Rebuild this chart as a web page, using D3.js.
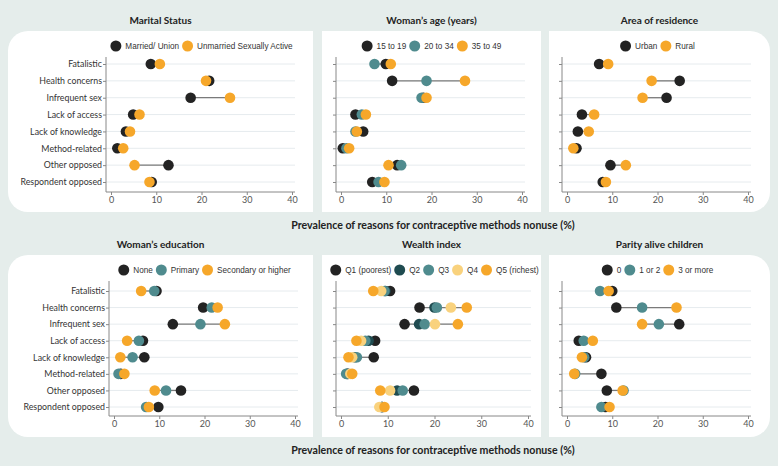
<!DOCTYPE html>
<html><head><meta charset="utf-8">
<script src="https://cdn.jsdelivr.net/npm/d3@7"></script>
<style>
html,body{margin:0;padding:0;background:#e5edeb;}
svg{display:block;}
</style></head>
<body><svg id="chart" width="778" height="466"></svg>
<script>
// ---------- DATA ----------
const reasons = ["Fatalistic","Health concerns","Infrequent sex","Lack of access","Lack of knowledge","Method-related","Other opposed","Respondent opposed"];
const xTicks = [0,10,20,30,40];
const axisTitle = "Prevalence of reasons for contraceptive methods nonuse (%)";

const maritalTitle = "Marital Status";
const maritalGroups = ["Married/ Union","Unmarried Sexually Active"];
const maritalMarried   = [8.8, 21.7, 17.6, 4.9, 3.3, 1.4, 12.7, 9.0];
const maritalUnmarried = [10.8, 21.0, 26.3, 6.3, 4.2, 2.7, 5.2, 8.5];

const ageTitle = "Woman\u2019s age (years)";
const ageGroups = ["15 to 19","20 to 34","35 to 49"];
const age15to19 = [9.9, 11.3, 18.2, 3.2, 4.9, 0.4, 12.4, 6.9];
const age20to34 = [7.4, 18.9, 17.8, 4.6, 3.2, 1.2, 13.3, 8.3];
const age35to49 = [11.0, 27.4, 18.9, 5.5, 3.5, 1.8, 10.5, 9.6];

const areaTitle = "Area of residence";
const areaGroups = ["Urban","Rural"];
const areaUrban = [7.1, 24.9, 22.0, 3.3, 2.4, 2.1, 9.6, 7.9];
const areaRural = [9.1, 18.7, 16.7, 6.0, 4.8, 1.4, 13.0, 8.6];

const eduTitle = "Woman\u2019s education";
const eduGroups = ["None","Primary","Secondary or higher"];
const eduNone      = [9.4, 19.7, 13.0, 6.4, 6.7, 1.5, 14.8, 9.8];
const eduPrimary   = [8.9, 21.6, 19.1, 5.5, 4.1, 1.0, 11.5, 7.1];
const eduSecondary = [6.0, 22.9, 24.5, 2.9, 1.4, 2.3, 9.0, 7.7];

const wealthTitle = "Wealth index";
const wealthGroups = ["Q1 (poorest)","Q2","Q3","Q4","Q5 (richest)"];
const wealthQ1 = [10.5, 16.8, 13.6, 7.3, 7.0, 1.5, 15.6, 8.8];
const wealthQ2 = [9.5, 20.0, 16.7, 5.9, 3.0, 1.3, 12.0, 8.7];
const wealthQ3 = [9.3, 20.5, 17.9, 5.2, 3.4, 1.1, 13.2, 8.8];
const wealthQ4 = [8.6, 23.5, 20.1, 4.3, 2.4, 2.0, 10.5, 8.2];
const wealthQ5 = [6.9, 26.9, 25.0, 3.3, 1.6, 2.4, 8.4, 9.3];

const parityTitle = "Parity alive children";
const parityGroups = ["0","1 or 2","3 or more"];
const parity0    = [10.0, 10.9, 24.8, 2.6, 4.2, 7.6, 8.8, 8.5];
const parity1to2 = [7.3, 16.6, 20.3, 3.7, 3.8, 1.8, 12.5, 7.6];
const parity3up  = [9.2, 24.2, 16.6, 5.7, 3.3, 1.6, 12.3, 9.4];

// ---------- STYLE ----------
const C = {black:"#232323", teal:"#4f8b8e", orange:"#f6a72a", dteal:"#1f4b50", yellow:"#f9d27d"};
const titleFont = "Lato, 'Open Sans', sans-serif";
const labelFont = "Lato, 'Open Sans', sans-serif";
const legendFont = "'Liberation Sans', Arial, sans-serif";

const panels = [
  {title:maritalTitle, groups:maritalGroups, series:[maritalMarried, maritalUnmarried], colors:[C.black,C.orange],
   box:[8,31,313,212], round:"left", xr:[111,292], yr:[64,182], axisY:192, topY:57, legendY:46, labels:true},
  {title:ageTitle, groups:ageGroups, series:[age15to19, age20to34, age35to49], colors:[C.black,C.teal,C.orange],
   box:[322,31,541,212], round:"none", xr:[341,522], yr:[64,182], axisY:192, topY:57, legendY:46, labels:false},
  {title:areaTitle, groups:areaGroups, series:[areaUrban, areaRural], colors:[C.black,C.orange],
   box:[549,31,770,212], round:"right", xr:[567,748], yr:[64,182], axisY:192, topY:57, legendY:46, labels:false},
  {title:eduTitle, groups:eduGroups, series:[eduNone, eduPrimary, eduSecondary], colors:[C.black,C.teal,C.orange],
   box:[8,255,313,437], round:"left", xr:[114,295], yr:[291,407], axisY:416, topY:281, legendY:270, labels:true},
  {title:wealthTitle, groups:wealthGroups, series:[wealthQ1, wealthQ2, wealthQ3, wealthQ4, wealthQ5], colors:[C.black,C.dteal,C.teal,C.yellow,C.orange],
   box:[322,255,541,437], round:"none", xr:[341,528], yr:[291,407], axisY:416, topY:281, legendY:270, labels:false},
  {title:parityTitle, groups:parityGroups, series:[parity0, parity1to2, parity3up], colors:[C.black,C.teal,C.orange],
   box:[549,255,770,437], round:"right", xr:[567,748], yr:[291,407], axisY:416, topY:281, legendY:270, labels:false}
];

const svg = d3.select("#chart");
svg.append("rect").attr("width",778).attr("height",466).attr("fill","#e5edeb");

function panelPath(b, round){
  const [x0,y0,x1,y1] = b, r = 20;
  const p = d3.path();
  if(round==="left"){
    p.moveTo(x0+r,y0); p.lineTo(x1,y0); p.lineTo(x1,y1); p.lineTo(x0+r,y1);
    p.arcTo(x0,y1,x0,y1-r,r); p.lineTo(x0,y0+r); p.arcTo(x0,y0,x0+r,y0,r); p.closePath();
  } else if(round==="right"){
    p.moveTo(x0,y0); p.lineTo(x1-r,y0); p.arcTo(x1,y0,x1,y0+r,r); p.lineTo(x1,y1-r);
    p.arcTo(x1,y1,x1-r,y1,r); p.lineTo(x0,y1); p.closePath();
  } else { p.rect(x0,y0,x1-x0,y1-y0); }
  return p.toString();
}

panels.forEach(P=>{
  const g = svg.append("g");
  g.append("path").attr("d", panelPath(P.box,P.round)).attr("fill","#ffffff");
  // panel title
  g.append("text").attr("x",(P.box[0]+P.box[2])/2).attr("y",P.box[1]-7)
    .attr("text-anchor","middle").attr("font-family",titleFont).attr("font-weight",700)
    .attr("font-size",10).attr("fill","#222").text(P.title);

  const x = d3.scaleLinear().domain([0,40]).range(P.xr);
  const y = d3.scalePoint().domain(reasons).range(P.yr);
  const axX = P.xr[0]-5;

  // gridlines
  g.append("g").selectAll("line").data(reasons).join("line")
    .attr("x1",axX).attr("x2",x(40)+3).attr("y1",d=>y(d)).attr("y2",d=>y(d))
    .attr("stroke","#e6ebee").attr("stroke-width",1);

  // y axis
  const yAxis = d3.axisLeft(y).tickSize(3).tickPadding(1).tickFormat(P.labels? d=>d : ()=>"");
  const ya = g.append("g").attr("transform",`translate(${axX},0)`).call(yAxis);
  ya.select(".domain").remove();
  ya.selectAll(".tick line").attr("stroke","#888");
  ya.selectAll(".tick text").attr("font-family",labelFont).attr("font-size",8.8).attr("fill","#333");
  g.append("line").attr("x1",axX).attr("x2",axX).attr("y1",P.topY).attr("y2",P.axisY).attr("stroke","#888").attr("stroke-width",1);

  // x axis
  const xAxis = d3.axisBottom(x).tickValues(xTicks).tickSize(3).tickPadding(2);
  const xa = g.append("g").attr("transform",`translate(0,${P.axisY})`).call(xAxis);
  xa.select(".domain").remove();
  xa.selectAll(".tick line").attr("stroke","#888");
  xa.selectAll(".tick text").attr("font-family",labelFont).attr("font-size",9).attr("fill","#555");
  g.append("line").attr("x1",axX).attr("x2",x(40)+3).attr("y1",P.axisY).attr("y2",P.axisY).attr("stroke","#888").attr("stroke-width",1);

  // connecting lines
  const rows = reasons.map((r,i)=>({r, vals:P.series.map(s=>s[i])}));
  g.append("g").selectAll("line").data(rows).join("line")
    .attr("x1",d=>x(d3.min(d.vals))).attr("x2",d=>x(d3.max(d.vals)))
    .attr("y1",d=>y(d.r)).attr("y2",d=>y(d.r))
    .attr("stroke","#7a7a7a").attr("stroke-width",1.3);

  // dots (series order: later on top)
  P.series.forEach((s,k)=>{
    g.append("g").selectAll("circle").data(s).join("circle")
      .attr("cx",d=>x(d)).attr("cy",(d,i)=>y(reasons[i])).attr("r",5.3)
      .attr("fill",P.colors[k]);
  });

  // legend
  const lg = g.append("g");
  const items = P.groups.map((name,k)=>{
    const it = lg.append("g");
    it.append("circle").attr("cx",0).attr("cy",0).attr("r",5.5).attr("fill",P.colors[k]);
    const t = it.append("text").attr("x",9.5).attr("y",3).attr("font-family",legendFont)
      .attr("font-size",8.2).attr("fill","#333").text(name);
    return {it, w: 9.5 + t.node().getComputedTextLength()};
  });
  const gap = 8.5;
  const total = d3.sum(items, d=>d.w) + 5.5 + gap*(items.length-1);
  let cx = (P.xr[0]+P.xr[1])/2 - total/2 + 5.5;
  items.forEach(d=>{ d.it.attr("transform",`translate(${cx},${P.legendY})`); cx += d.w + gap; });
});

// shared axis titles
[229, 454].forEach(yy=>{
  svg.append("text").attr("x",433).attr("y",yy).attr("text-anchor","middle")
    .attr("font-family",titleFont).attr("font-weight",700).attr("font-size",10.6).attr("fill","#222")
    .text(axisTitle);
});
</script></body></html>
